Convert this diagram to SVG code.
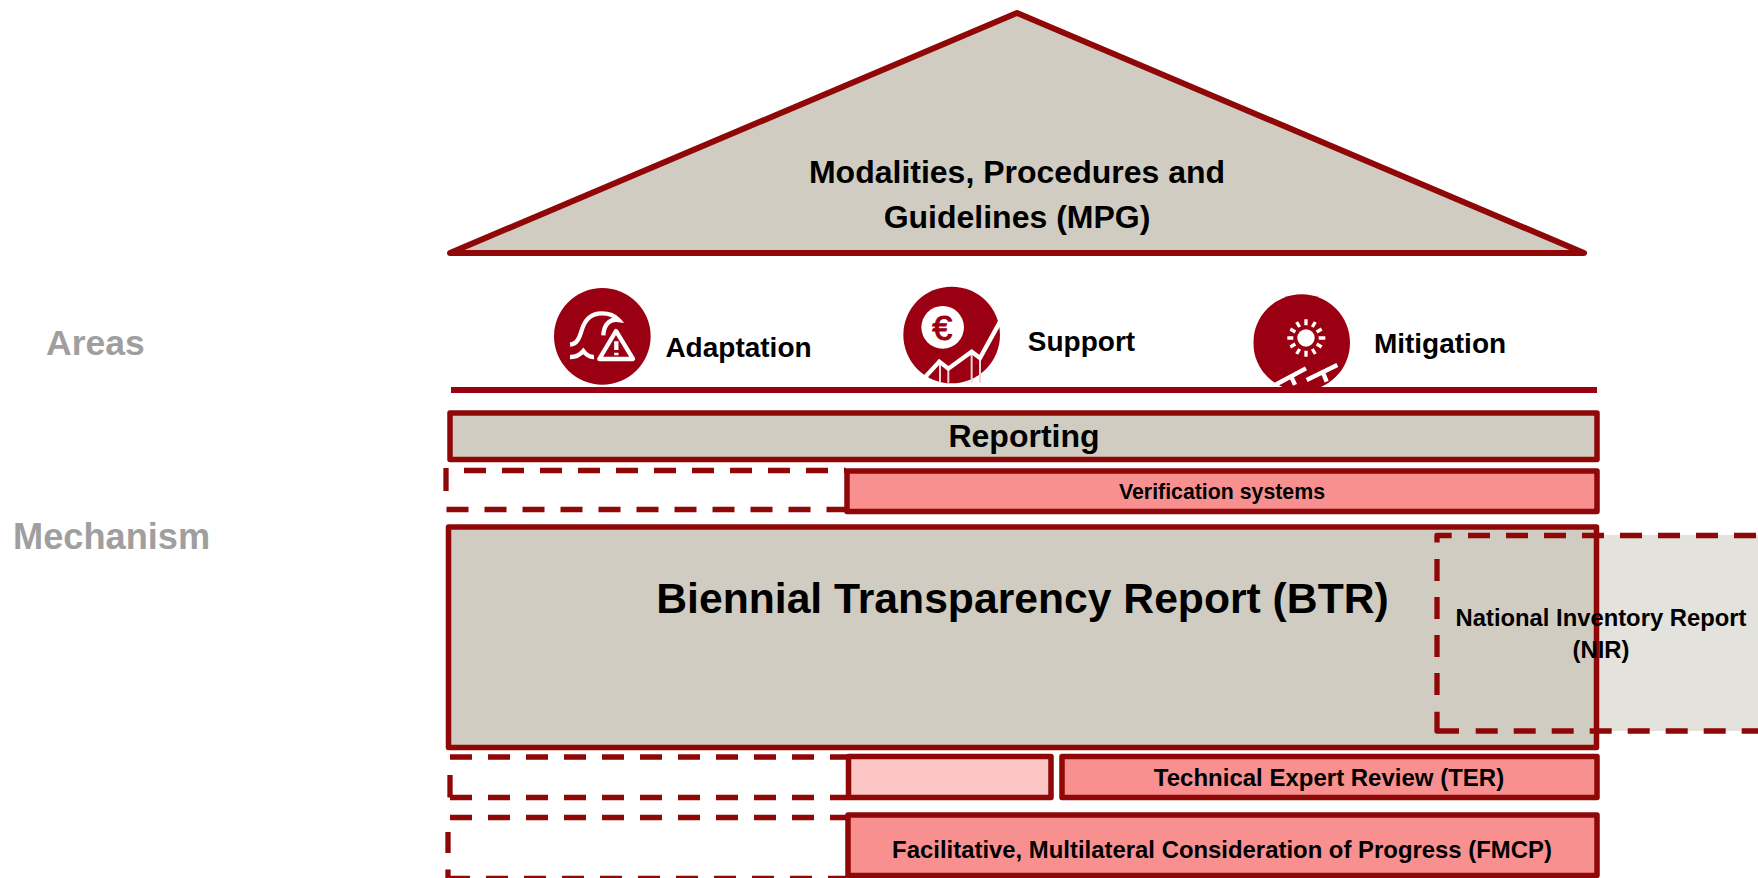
<svg xmlns="http://www.w3.org/2000/svg" width="1758" height="878" viewBox="0 0 1758 878">
<style>
text{font-family:"Liberation Sans",Arial,sans-serif;font-weight:bold;fill:#000;text-anchor:middle}
.box{stroke:#8f0707;stroke-width:5.500;stroke-linejoin:round}
.grey{fill:#d0ccc1}.pink{fill:#f89090}.light{fill:#fbc6c4}
.dash{fill:none;stroke:#8f0707;stroke-width:5.300;stroke-dasharray:22 16}
.seg{fill:none;stroke:#8f0707;stroke-width:5.300;stroke-linejoin:round}
.side{fill:#9f9f9f;text-anchor:start}
.ic{fill:none;stroke:#fff;stroke-width:13}
</style>
<defs>
<clipPath id="c2"><path d="M70 0H370V338H70Z"/></clipPath>
<clipPath id="c3"><path d="M70 0H370V351H70Z"/></clipPath>
</defs>
<g id="labels"><text class="side" x="46" y="355" font-size="35.500">Areas</text><text class="side" x="13" y="549" font-size="36.200">Mechanism</text></g>
<g id="roof"><path class="box grey" style="stroke-width:6" d="M1017 13L1584 253H450Z"/><text x="1017" y="183" font-size="32">Modalities, Procedures and</text><text x="1017" y="228" font-size="32">Guidelines (MPG)</text></g>
<g id="adaptation"><g transform="translate(520 270) scale(.3333)">
<circle cx="247" cy="199" r="145" fill="#9b0012"/>
<path class="ic" d="M150 224C172 222 178 204 186 178C196 146 218 130 245 130C268 130 285 137 296 150C272 146 252 160 250 196"/>
<path class="ic" d="M150 261C172 262 182 252 190 243C198 254 206 262 222 261"/>
<path class="ic" d="M288 183L339 267H238Z" stroke-linejoin="round"/>
<path class="ic" d="M289 214V240M289 248V256" stroke-width="13"/>
</g><text x="738.500" y="357" font-size="28">Adaptation</text></g>
<g id="support"><g transform="translate(880 270) scale(.3333)">
<circle cx="215" cy="195" r="145" fill="#9b0012"/>
<circle cx="188" cy="172" r="64" fill="#fff"/>
<text x="187" y="209" font-size="108" style="fill:#9b0012;font-weight:normal;stroke:#9b0012;stroke-width:3">€</text>
<g clip-path="url(#c2)"><path d="M180 280V340M205 300V340M275 250V340M300 265V340" stroke="#f1d5d7" stroke-width="6"/><path d="M135 322L178 275L205 296L275 245L300 264L362 152" class="ic"/></g>
</g><text x="1081.500" y="351" font-size="28">Support</text></g>
<g id="mitigation"><g transform="translate(1230 270) scale(.3333)">
<g clip-path="url(#c3)"><circle cx="215" cy="218" r="145" fill="#9b0012"/>
<path class="ic" d="M135 345L228 295M230 330L322 285M185 322L195 345M280 310L290 335"/></g>
<circle cx="228" cy="204" r="26" fill="#fff"/>
<path class="ic" style="stroke-width:10" d="M228 148V166M228 242V260M172 204H190M266 204H286M200 156L209 171M247 237L256 252M256 156L247 171M209 237L200 252M181 177L196 186M260 222L275 231M275 177L260 186M196 222L181 231"/>
</g><text x="1440" y="353" font-size="28">Mitigation</text></g>
<g id="divider"><path d="M451 390H1597" stroke="#990011" stroke-width="6"/></g>
<g id="reporting"><rect class="box grey" x="450" y="413" width="1147" height="46.500"/><text x="1024" y="447" font-size="32">Reporting</text></g>
<g id="verification"><path class="dash" d="M464 470.500H846M446.500 509.500H846"/><path class="seg" d="M446 468V491"/><rect class="box pink" x="847" y="471" width="750" height="40.500"/><text x="1222" y="499" font-size="21.300">Verification systems</text></g>
<g id="nir-back"><path d="M1437 535H1758V731H1437Z" fill="#e3e2dd"/></g>
<g id="btr"><rect class="box grey" x="448.500" y="527" width="1148" height="220.500"/><text x="1022.500" y="613" font-size="42.670">Biennial Transparency Report (BTR)</text></g>
<g id="nir"><path class="seg" d="M1451.700 535.500H1437V542.500M1437 711.700V731H1459"/><path class="dash" d="M1468 535.500H1758M1475.700 731H1758M1437 559V711"/><text x="1601" y="626" font-size="23.800">National Inventory Report</text><text x="1601" y="658" font-size="23.800">(NIR)</text></g>
<g id="ter"><path class="dash" d="M450 757H848M450 797.500H848"/><path class="seg" d="M450 775V797.500"/><rect class="box light" x="848.500" y="756.500" width="202.500" height="41"/><rect class="box pink" x="1062" y="756.500" width="535" height="41"/><text x="1329" y="786" font-size="24">Technical Expert Review (TER)</text></g>
<g id="fmcp"><path class="dash" d="M450 817.500H848M486 878.500H848"/><path class="seg" d="M448 832V853M448 869.500V878.500H470"/><rect class="box pink" x="848" y="815" width="749" height="60.500"/><text x="1222" y="858" font-size="23.900">Facilitative, Multilateral Consideration of Progress (FMCP)</text></g>
<g id="connectors"/>
</svg>
